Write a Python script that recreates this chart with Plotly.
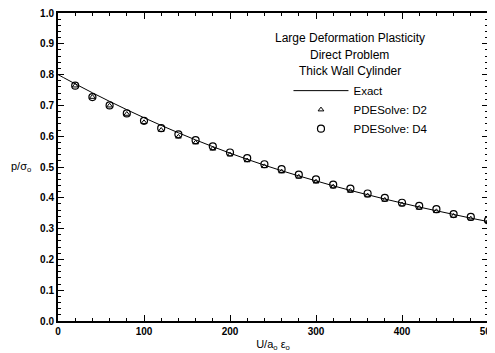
import plotly.graph_objects as go

# Exact curve
exact_x = [0, 20, 40, 60, 80, 100, 120, 140, 160, 180, 200, 220, 240, 260, 280,
           300, 320, 340, 360, 380, 400, 420, 440, 460, 480, 500]
exact_y = [0.800, 0.770, 0.741, 0.713, 0.686, 0.660, 0.635, 0.611, 0.588, 0.566,
           0.545, 0.525, 0.506, 0.488, 0.471, 0.455, 0.439, 0.424, 0.410, 0.396,
           0.383, 0.370, 0.358, 0.346, 0.334, 0.323]

pts_x = [20, 40, 60, 80, 100, 120, 140, 160, 180, 200, 220, 240, 260, 280, 300,
         320, 340, 360, 380, 400, 420, 440, 460, 480, 500]
d4_y = [0.764, 0.727, 0.700, 0.674, 0.650, 0.626, 0.606, 0.587, 0.567, 0.547,
        0.529, 0.509, 0.493, 0.475, 0.460, 0.443, 0.430, 0.414, 0.400, 0.384,
        0.374, 0.363, 0.347, 0.338, 0.327]
d2_y = [0.764, 0.727, 0.699, 0.672, 0.645, 0.620, 0.598, 0.579, 0.559, 0.540,
        0.521, 0.502, 0.485, 0.468, 0.452, 0.436, 0.422, 0.407, 0.393, 0.378,
        0.367, 0.356, 0.341, 0.332, 0.323]

x_ticks = [0, 100, 200, 300, 400, 500]
y_ticks = [0.0, 0.1, 0.2, 0.3, 0.4, 0.5, 0.6, 0.7, 0.8, 0.9, 1.0]

title_lines = ["Large Deformation Plasticity", "Direct Problem", "Thick Wall Cylinder"]

FONT = "Liberation Sans, Arial, sans-serif"

fig = go.Figure()
fig.add_trace(go.Scatter(x=exact_x, y=exact_y, mode="lines", name="Exact",
                         line=dict(color="black", width=1, shape="spline")))
fig.add_trace(go.Scatter(x=pts_x, y=d2_y, mode="markers", name="PDESolve: D2",
                         marker=dict(symbol="triangle-up-open", size=5, color="black",
                                     line=dict(width=1, color="black"))))
fig.add_trace(go.Scatter(x=pts_x, y=d4_y, mode="markers", name="PDESolve: D4",
                         marker=dict(symbol="circle-open", size=7, color="black",
                                     line=dict(width=1.2, color="black"))))

axis_common = dict(showline=True, linecolor="black", linewidth=2, mirror="ticks",
                   ticks="inside", ticklen=6, tickwidth=1.2, tickcolor="black",
                   showgrid=False, zeroline=False, automargin=False,
                   ticklabeloverflow="allow",
                   tickfont=dict(family=FONT, size=10, color="black", weight="bold"))

fig.update_xaxes(range=[0, 500], tickvals=x_ticks, ticktext=[str(v) for v in x_ticks],
                 minor=dict(dtick=20, ticks="inside", ticklen=3, tickcolor="black"),
                 title=dict(text="U/a<sub>o</sub> ε<sub>o</sub>", standoff=4,
                            font=dict(family=FONT, size=11, color="black")),
                 **axis_common)
fig.update_yaxes(range=[0, 1.0], tickvals=y_ticks, ticktext=[f"{v:.1f}" for v in y_ticks],
                 minor=dict(dtick=0.02, ticks="inside", ticklen=3, tickcolor="black"),
                 **axis_common)

fig.add_annotation(text="p/σ<sub>o</sub>", xref="paper", yref="paper",
                   x=-0.058, y=0.5, xanchor="right", yanchor="middle", showarrow=False,
                   font=dict(family=FONT, size=11, color="black"))

for i, line in enumerate(title_lines):
    fig.add_annotation(text=line, xref="paper", yref="paper",
                       x=0.679, y=0.918 - i * 0.053, xanchor="center", yanchor="middle",
                       showarrow=False, font=dict(family=FONT, size=12, color="black"))

# page body has an 8px margin in the browser; compensate with size and margins
fig.update_layout(
    width=487, height=345,
    margin=dict(l=50, r=7, t=5, b=32),
    paper_bgcolor="white", plot_bgcolor="white",
    showlegend=True,
    legend=dict(x=0.536, y=0.795, xanchor="left", yanchor="top",
                bgcolor="rgba(0,0,0,0)", itemwidth=55, tracegroupgap=0,
                font=dict(family=FONT, size=11.5, color="black")),
)

fig.write_html("out.html")
